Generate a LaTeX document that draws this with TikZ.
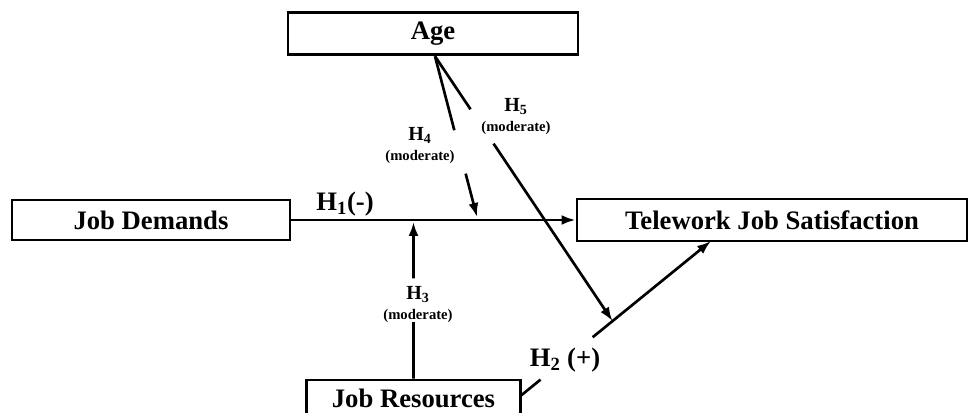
\documentclass[tikz,border=0pt]{standalone}
\usepackage{fontspec}
\setmainfont{Liberation Serif}
\usetikzlibrary{arrows.meta,calc}

\tikzset{every picture/.style={line width=0.75pt}}
\tikzset{
  varbox/.style={draw, line width=2.2pt, inner sep=0pt, font=\fontsize{20}{24}\selectfont\bfseries},
  link/.style={line width=2pt},
  linkarr/.style={link, -{Latex[length=10.5pt,width=7.5pt]}},
  hyp/.style={inner sep=0pt, font=\fontsize{20}{24}\selectfont\bfseries},
  modhyp/.style={inner sep=0pt, align=center, font=\bfseries}
}
\newcommand{\hsub}[1]{H\textsubscript{#1}}

\begin{document}
\begin{tikzpicture}[x=0.75pt,y=0.75pt,yscale=-1,xscale=1]
\useasboundingbox (0,0) rectangle (968,413);

% Boxes
\node[varbox, minimum width=217.5pt, minimum height=32pt] (age) at (433,33.5) {Age};
\node[varbox, minimum width=208.5pt, minimum height=30pt] (jd) at (151,220) {Job Demands};
\node[varbox, minimum width=292.5pt, minimum height=31.5pt] (tjs) at (772,220) {Telework Job Satisfaction};
\node[varbox, minimum width=160pt, minimum height=27pt] (jr) at (413.5,398) {Job Resources};

% Connector ends
\coordinate (agefoot) at ($(age.south)+(2,0)$);
\coordinate (jrside) at ($(jr.east)+(0,-3)$);
\coordinate (h3tip) at ($(jr.north |- jd.east)+(0,2)$);
\coordinate (h4tip) at (477,217);
\coordinate (h2tip) at (711,241);
\coordinate (h5tip) at ($(jrside)!0.48!(h2tip)$);

% H1
\draw[linkarr] (jd.east) -- (tjs.west);
% H2
\draw[link] (jrside) -- ($(jrside)!0.1!(h2tip)$);
\draw[linkarr] ($(jrside)!0.375!(h2tip)$) -- (h2tip);
% H3
\draw[link] (jr.north) -- ($(jr.north)!0.36!(h3tip)$);
\draw[linkarr] ($(jr.north)!0.64!(h3tip)$) -- (h3tip);
% H4
\draw[link] (agefoot) -- ($(agefoot)!0.46!(h4tip)$);
\draw[linkarr] ($(agefoot)!0.73!(h4tip)$) -- (h4tip);
% H5
\draw[link] (agefoot) -- ($(agefoot)!0.2!(h5tip)$);
\draw[linkarr] ($(agefoot)!0.33!(h5tip)$) -- (h5tip);

% Text Node
\node[hyp] (h1) at (345,204) {\hsub{1}(-)};
\node[hyp] (h2) at (565,360) {\hsub{2} (+)};
\node[modhyp] (h3) at (418,305) {{\fontsize{15}{17}\selectfont\hsub{3}}\\[3pt]{\fontsize{11}{13}\selectfont (moderate)}};
\node[modhyp] (h4) at (420,146) {{\fontsize{15}{17}\selectfont\hsub{4}}\\[3pt]{\fontsize{11}{13}\selectfont (moderate)}};
\node[modhyp] (h5) at (516,117) {{\fontsize{15}{17}\selectfont\hsub{5}}\\[3pt]{\fontsize{11}{13}\selectfont (moderate)}};

\end{tikzpicture}
\end{document}
